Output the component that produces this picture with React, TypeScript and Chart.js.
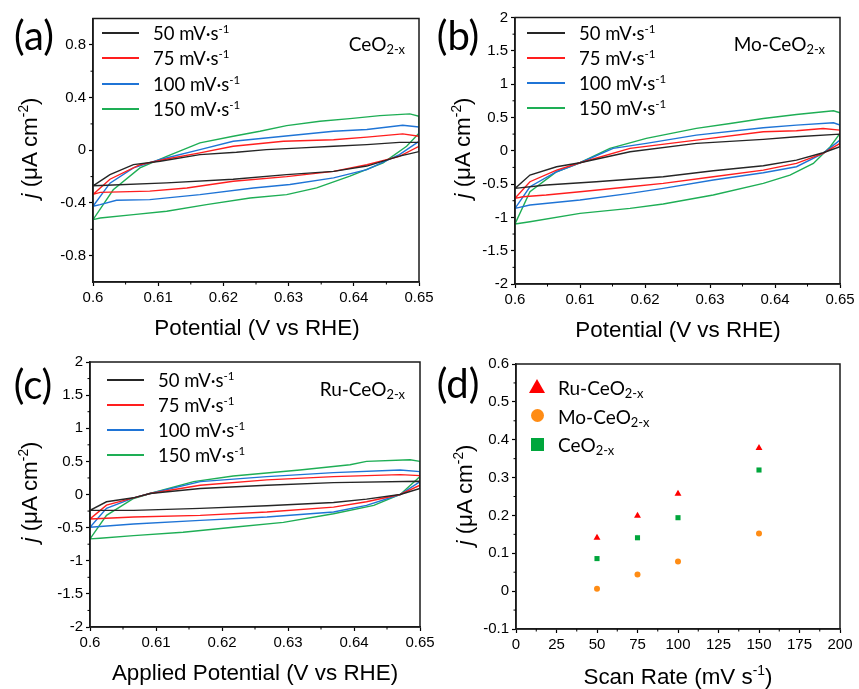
import React, { useEffect, useRef } from 'react';
import { Chart, registerables } from 'chart.js';

Chart.register(...registerables);

const PAGE_W = 859;
const PAGE_H = 689;

// ---------------- data ----------------
const scanRates = [50, 75, 100, 150];
const cvColors = ['#262626', '#ff1e1e', '#1f74d6', '#1eae55'];

const potentialTicks = [0.6, 0.61, 0.62, 0.63, 0.64, 0.65];
const ceo2YTicks = [-0.8, -0.4, 0, 0.4, 0.8];
const dopedYTicks = [-2, -1.5, -1, -0.5, 0, 0.5, 1, 1.5, 2];
const scanRateTicks = [0, 25, 50, 75, 100, 125, 150, 175, 200];
const capYTicks = [-0.1, 0, 0.1, 0.2, 0.3, 0.4, 0.5, 0.6];

// CeO2-x CV loops: [potential (V vs RHE), j (uA cm-2)]
const ceo2_50 = [[0.6,-0.27],[0.6026,-0.185],[0.6062,-0.109],[0.6103,-0.083],[0.6164,-0.033],[0.622,-0.015],[0.6266,0.005],[0.632,0.018],[0.6369,0.03],[0.642,0.043],[0.647,0.06],[0.65,0.06],[0.65,-0.01],[0.647,-0.045],[0.642,-0.12],[0.6369,-0.16],[0.6297,-0.185],[0.6215,-0.22],[0.6113,-0.248],[0.6011,-0.268],[0.6,-0.27]];
const ceo2_75 = [[0.6,-0.335],[0.6026,-0.22],[0.6072,-0.11],[0.6113,-0.066],[0.6164,-0.02],[0.6215,0.03],[0.6292,0.068],[0.6369,0.08],[0.642,0.1],[0.6475,0.124],[0.65,0.106],[0.65,0.03],[0.647,-0.046],[0.642,-0.11],[0.6369,-0.16],[0.6297,-0.2],[0.6215,-0.235],[0.6144,-0.286],[0.6087,-0.31],[0.6011,-0.32],[0.6,-0.335]];
const ceo2_100 = [[0.6,-0.425],[0.6026,-0.25],[0.6062,-0.134],[0.6103,-0.07],[0.6164,0.005],[0.6215,0.068],[0.6292,0.106],[0.6369,0.144],[0.642,0.157],[0.6475,0.19],[0.65,0.177],[0.65,0.068],[0.647,-0.033],[0.642,-0.147],[0.6369,-0.21],[0.6302,-0.26],[0.6246,-0.286],[0.6164,-0.337],[0.6087,-0.375],[0.6036,-0.38],[0.6011,-0.413],[0.6,-0.425]];
const ceo2_150 = [[0.6,-0.527],[0.6031,-0.3],[0.6072,-0.134],[0.6113,-0.046],[0.6164,0.056],[0.6215,0.106],[0.6256,0.144],[0.6297,0.187],[0.6348,0.22],[0.6394,0.24],[0.644,0.263],[0.6486,0.276],[0.65,0.258],[0.65,0.13],[0.6481,0.03],[0.6445,-0.096],[0.6394,-0.197],[0.6343,-0.286],[0.6297,-0.337],[0.6241,-0.362],[0.6174,-0.413],[0.6113,-0.463],[0.6062,-0.489],[0.6011,-0.514],[0.6,-0.527]];

// Mo-CeO2-x CV loops
const mo_50 = [[0.6,-0.565],[0.6023,-0.365],[0.6064,-0.24],[0.61,-0.18],[0.6177,-0.015],[0.6279,0.11],[0.6382,0.17],[0.6433,0.21],[0.65,0.25],[0.65,0.06],[0.6474,-0.03],[0.6433,-0.14],[0.6382,-0.225],[0.6305,-0.3],[0.6228,-0.39],[0.6125,-0.465],[0.6048,-0.515],[0.6,-0.565]];
const mo_75 = [[0.6,-0.715],[0.6023,-0.465],[0.6064,-0.29],[0.61,-0.18],[0.6177,0.035],[0.6279,0.16],[0.6382,0.285],[0.6433,0.3],[0.6474,0.335],[0.65,0.31],[0.65,0.11],[0.6474,-0.04],[0.6433,-0.19],[0.6382,-0.29],[0.6305,-0.39],[0.6228,-0.49],[0.6177,-0.54],[0.61,-0.615],[0.6048,-0.665],[0.6012,-0.69],[0.6,-0.715]];
const mo_100 = [[0.6,-0.865],[0.6023,-0.54],[0.6064,-0.315],[0.61,-0.18],[0.6151,0.035],[0.6202,0.11],[0.6279,0.235],[0.6382,0.345],[0.6433,0.385],[0.649,0.42],[0.65,0.385],[0.65,0.16],[0.6474,-0.04],[0.6433,-0.24],[0.6382,-0.33],[0.6305,-0.44],[0.6228,-0.565],[0.6177,-0.64],[0.61,-0.74],[0.6023,-0.815],[0.6,-0.865]];
const mo_150 = [[0.6,-1.1],[0.6023,-0.615],[0.6064,-0.315],[0.61,-0.18],[0.6146,0.035],[0.6202,0.185],[0.6279,0.335],[0.6331,0.41],[0.6382,0.485],[0.6433,0.545],[0.649,0.6],[0.65,0.57],[0.65,0.26],[0.6485,0.06],[0.6459,-0.19],[0.6423,-0.365],[0.6382,-0.49],[0.6305,-0.665],[0.6228,-0.8],[0.6177,-0.865],[0.61,-0.94],[0.6023,-1.065],[0.6,-1.1]];

// Ru-CeO2-x CV loops
const ru_50 = [[0.6,-0.24],[0.6025,-0.11],[0.6066,-0.05],[0.6091,0.015],[0.6167,0.09],[0.6268,0.14],[0.6369,0.18],[0.65,0.2],[0.65,0.09],[0.647,0],[0.6419,-0.07],[0.6369,-0.12],[0.6268,-0.17],[0.6167,-0.21],[0.6066,-0.24],[0.6,-0.24]];
const ru_75 = [[0.6,-0.37],[0.6025,-0.16],[0.6066,-0.05],[0.6091,0.015],[0.6167,0.14],[0.6268,0.22],[0.6369,0.27],[0.647,0.3],[0.65,0.285],[0.65,0.14],[0.647,0],[0.6419,-0.11],[0.6369,-0.19],[0.6268,-0.265],[0.6167,-0.315],[0.6066,-0.34],[0.6,-0.37]];
const ru_100 = [[0.6,-0.495],[0.6025,-0.21],[0.6066,-0.05],[0.6091,0.015],[0.6167,0.195],[0.6268,0.27],[0.6369,0.33],[0.647,0.37],[0.65,0.345],[0.65,0.195],[0.647,0],[0.6419,-0.165],[0.6369,-0.265],[0.6268,-0.34],[0.6167,-0.39],[0.6066,-0.445],[0.6,-0.495]];
const ru_150 = [[0.6,-0.67],[0.6025,-0.315],[0.6066,-0.06],[0.6091,0.015],[0.6157,0.195],[0.6217,0.28],[0.6318,0.37],[0.6394,0.45],[0.6419,0.5],[0.6485,0.525],[0.65,0.5],[0.65,0.27],[0.647,0],[0.643,-0.165],[0.6369,-0.29],[0.6293,-0.42],[0.6217,-0.495],[0.6141,-0.57],[0.6066,-0.62],[0.6015,-0.66],[0.6,-0.67]];

// (d) current density difference vs scan rate
const ruCurrent = [0.141, 0.199, 0.257, 0.378];
const moCurrent = [0.006, 0.044, 0.078, 0.152];
const ceo2Current = [0.086, 0.141, 0.194, 0.32];

// ---------------- styles ----------------
const TICK_FONT = '"Liberation Sans", Arial, sans-serif';
const LABEL_FONT = 'Lato, "Open Sans", sans-serif';

const fmt = (v: number) => String(Math.round(v * 1000) / 1000);

function axis(min: number, max: number, ticks: number[], horizontal: boolean) {
  return {
    type: 'linear',
    min,
    max,
    afterBuildTicks: (s: any) => {
      s.ticks = ticks.map((v) => ({ value: v }));
    },
    afterFit: (s: any) => {
      if (horizontal) s.height = 40;
      else s.width = 60;
    },
    ticks: {
      color: '#000',
      font: { family: TICK_FONT, size: 15 },
      padding: 3,
      autoSkip: false,
      maxRotation: 0,
      minRotation: 0,
      callback: (v: number) => fmt(v),
    },
    grid: {
      display: true,
      drawOnChartArea: false,
      drawTicks: true,
      tickLength: 4,
      tickColor: '#000',
      tickWidth: 1.2,
    },
    border: { display: true, color: '#1a1a1a', width: 1.5 },
    title: { display: false },
  };
}

const framePlugin = {
  id: 'frame',
  afterDraw(chart: any) {
    const { ctx, chartArea: a } = chart;
    ctx.save();
    ctx.strokeStyle = '#1a1a1a';
    ctx.lineWidth = 1.5;
    ctx.strokeRect(a.left, a.top, a.right - a.left, a.bottom - a.top);
    ctx.restore();
  },
};

const minorTickPlugin = {
  id: 'minorTicks',
  afterDraw(chart: any) {
    const { ctx, chartArea: a } = chart;
    ctx.save();
    ctx.strokeStyle = '#000';
    ctx.lineWidth = 1;
    for (const id of ['x', 'y']) {
      const s = chart.scales[id];
      const vals = s.ticks.map((t: any) => t.value);
      for (let i = 0; i < vals.length - 1; i++) {
        const p = s.getPixelForValue((vals[i] + vals[i + 1]) / 2);
        ctx.beginPath();
        if (id === 'x') {
          ctx.moveTo(p, a.bottom);
          ctx.lineTo(p, a.bottom + 2.5);
        } else {
          ctx.moveTo(a.left, p);
          ctx.lineTo(a.left - 2.5, p);
        }
        ctx.stroke();
      }
    }
    ctx.restore();
  },
};

type Area = { l: number; t: number; r: number; b: number };

function layoutPadding(area: Area) {
  return {
    left: area.l - 60,
    top: area.t,
    right: PAGE_W - area.r,
    bottom: PAGE_H - area.b - 40,
  };
}

function cvConfig(area: Area, curves: number[][][], yMin: number, yMax: number, yTicks: number[]) {
  return {
    type: 'scatter',
    data: {
      datasets: curves.map((c, i) => ({
        label: `${scanRates[i]} mV·s⁻¹`,
        data: c.map(([x, y]) => ({ x, y })),
        showLine: true,
        borderColor: cvColors[i],
        backgroundColor: cvColors[i],
        borderWidth: 1.4,
        pointRadius: 0,
        tension: 0,
      })),
    },
    options: {
      responsive: false,
      animation: false,
      devicePixelRatio: 1,
      layout: { padding: layoutPadding(area) },
      plugins: { legend: { display: false }, tooltip: { enabled: false } },
      scales: {
        x: axis(0.6, 0.65, potentialTicks, true),
        y: axis(yMin, yMax, yTicks, false),
      },
    },
    plugins: [framePlugin, minorTickPlugin],
  };
}

const capSeries = [
  { label: 'Ru-CeO2-x', values: ruCurrent, color: '#ff0000', style: 'triangle', r: 4 },
  { label: 'Mo-CeO2-x', values: moCurrent, color: '#ff8c14', style: 'circle', r: 3 },
  { label: 'CeO2-x', values: ceo2Current, color: '#00a63c', style: 'rect', r: 3.6 },
];

function capConfig(area: Area) {
  return {
    type: 'scatter',
    data: {
      datasets: capSeries.map((s) => ({
        label: s.label,
        data: scanRates.map((x, i) => ({ x, y: s.values[i] })),
        pointStyle: s.style,
        pointRadius: s.r,
        pointBackgroundColor: s.color,
        pointBorderColor: s.color,
        pointBorderWidth: 0,
        showLine: false,
      })),
    },
    options: {
      responsive: false,
      animation: false,
      devicePixelRatio: 1,
      layout: { padding: layoutPadding(area) },
      plugins: { legend: { display: false }, tooltip: { enabled: false } },
      scales: {
        x: axis(0, 200, scanRateTicks, true),
        y: axis(-0.1, 0.6, capYTicks, false),
      },
    },
    plugins: [framePlugin, minorTickPlugin],
  };
}

function ChartCanvas({ config }: { config: () => any }) {
  const ref = useRef<HTMLCanvasElement>(null);
  useEffect(() => {
    const chart = new Chart(ref.current as HTMLCanvasElement, config());
    return () => chart.destroy();
  }, []);
  return (
    <canvas
      ref={ref}
      width={PAGE_W}
      height={PAGE_H}
      style={{ position: 'absolute', left: 0, top: 0, width: PAGE_W, height: PAGE_H, pointerEvents: 'none' }}
    />
  );
}

const areaA: Area = { l: 93, t: 18.5, r: 419, b: 282 };
const areaB: Area = { l: 515, t: 17.5, r: 840, b: 284 };
const areaC: Area = { l: 90, t: 362, r: 420, b: 627 };
const areaD: Area = { l: 516, t: 364, r: 840, b: 629 };

const sub = (s: string) => <sub style={{ fontSize: '0.68em', verticalAlign: '-0.28em', lineHeight: 0 }}>{s}</sub>;
const sup = (s: string) => <sup style={{ fontSize: '0.62em', verticalAlign: '0.62em', lineHeight: 0 }}>{s}</sup>;

function Text({ x, y, size, children, align = 'center', rotate = false, font = LABEL_FONT }: any) {
  const tx = align === 'center' ? '-50%' : align === 'right' ? '-100%' : '0';
  return (
    <div
      style={{
        position: 'absolute',
        left: x,
        top: y,
        transform: rotate ? 'translate(-50%,-50%) rotate(-90deg)' : `translate(${tx},-50%)`,
        fontFamily: font,
        fontSize: size,
        lineHeight: 1,
        whiteSpace: 'nowrap',
        color: '#000',
      }}
    >
      {children}
    </div>
  );
}

function LineLegend({ x0, x1, tx, y0, step }: any) {
  return (
    <>
      {scanRates.map((r, i) => (
        <React.Fragment key={r}>
          <div
            style={{
              position: 'absolute',
              left: x0,
              top: y0 + i * step - 1,
              width: x1 - x0,
              height: 2,
              background: cvColors[i],
            }}
          />
          <Text x={tx} y={y0 + i * step} size={18.5} align="left">
            {r} mV·s{sup('-1')}
          </Text>
        </React.Fragment>
      ))}
    </>
  );
}

function Marker({ style, color, x, y }: any) {
  if (style === 'triangle') {
    return (
      <div
        style={{
          position: 'absolute',
          left: x - 8,
          top: y - 8,
          width: 0,
          height: 0,
          borderLeft: '8px solid transparent',
          borderRight: '8px solid transparent',
          borderBottom: `14px solid ${color}`,
        }}
      />
    );
  }
  const round = style === 'circle';
  return (
    <div
      style={{
        position: 'absolute',
        left: x - 6.5,
        top: y - 6.5,
        width: 13,
        height: 13,
        borderRadius: round ? '50%' : 0,
        background: color,
      }}
    />
  );
}

const yTitle = (
  <>
    <i>j</i> (μA cm{sup('-2')})
  </>
);

export default function App() {
  return (
    <div style={{ position: 'absolute', left: 0, top: 0, width: PAGE_W, height: PAGE_H, background: '#fff', overflow: 'hidden' }}>
      <ChartCanvas config={() => cvConfig(areaA, [ceo2_50, ceo2_75, ceo2_100, ceo2_150], -1, 1, ceo2YTicks)} />
      <ChartCanvas config={() => cvConfig(areaB, [mo_50, mo_75, mo_100, mo_150], -2, 2, dopedYTicks)} />
      <ChartCanvas config={() => cvConfig(areaC, [ru_50, ru_75, ru_100, ru_150], -2, 2, dopedYTicks)} />
      <ChartCanvas config={() => capConfig(areaD)} />

      {/* panel letters */}
      <Text x={34} y={35} size={40}>(a)</Text>
      <Text x={458} y={35} size={40}>(b)</Text>
      <Text x={33} y={384} size={40}>(c)</Text>
      <Text x={458} y={383} size={40}>(d)</Text>

      {/* sample labels */}
      <Text x={405} y={43} size={19} align="right">CeO{sub('2-x')}</Text>
      <Text x={825} y={43} size={19} align="right">Mo-CeO{sub('2-x')}</Text>
      <Text x={405} y={388} size={19} align="right">Ru-CeO{sub('2-x')}</Text>

      {/* legends */}
      <LineLegend x0={102} x1={139} tx={153} y0={33} step={25.3} />
      <LineLegend x0={527} x1={565} tx={579} y0={33} step={25.1} />
      <LineLegend x0={107} x1={144} tx={158} y0={380} step={25} />
      {capSeries.map((s, i) => (
        <React.Fragment key={s.label}>
          <Marker style={s.style} color={s.color} x={537} y={387 + i * 28.5} />
          <Text x={558} y={387 + i * 28.5} size={19} align="left">
            {s.label.replace('2-x', '')}
            {sub('2-x')}
          </Text>
        </React.Fragment>
      ))}

      {/* axis titles */}
      <Text x={257} y={328} size={22.4} font={TICK_FONT}>Potential (V vs RHE)</Text>
      <Text x={678} y={330} size={22.4} font={TICK_FONT}>Potential (V vs RHE)</Text>
      <Text x={255} y={673} size={22.4} font={TICK_FONT}>Applied Potential (V vs RHE)</Text>
      <Text x={678} y={677} size={22.4} font={TICK_FONT}>Scan Rate (mV s{sup('-1')})</Text>

      <Text x={30} y={148} size={22.4} rotate font={TICK_FONT}>{yTitle}</Text>
      <Text x={463} y={148} size={22.4} rotate font={TICK_FONT}>{yTitle}</Text>
      <Text x={30} y={492} size={22.4} rotate font={TICK_FONT}>{yTitle}</Text>
      <Text x={465} y={495} size={22.4} rotate font={TICK_FONT}>{yTitle}</Text>
    </div>
  );
}
